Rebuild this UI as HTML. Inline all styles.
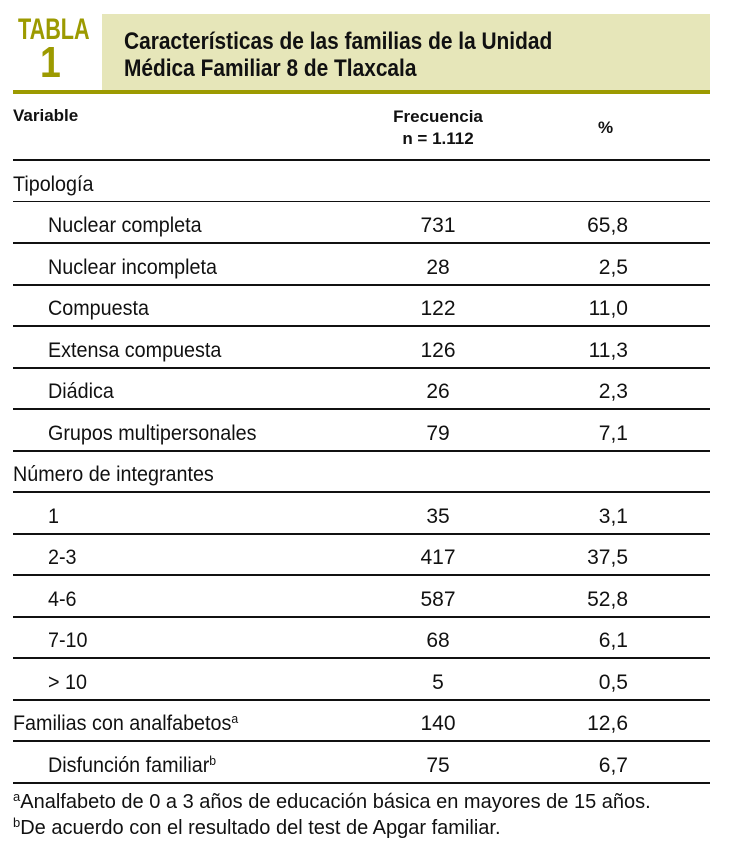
<!DOCTYPE html>
<html><head><meta charset="utf-8"><style>
body{margin:0;width:732px;height:845px;background:#fff;position:relative;overflow:hidden;font-family:"Liberation Sans Narrow","Liberation Sans",sans-serif;color:#111}
.a{position:absolute;white-space:nowrap}
.box{position:absolute;left:102px;top:14px;width:608px;height:77px;background:#e6e6b9}
.ol{position:absolute;left:13px;top:90px;width:697px;height:4px;background:#9c9a00}
.ln{position:absolute;left:13px;width:697px;height:2px;background:#111}
.t{font-size:21px;line-height:24px}
.sx{transform:scaleX(0.94);transform-origin:left}
.f{width:80px;text-align:center;left:398px}
.p{width:60px;text-align:right;left:568px}
sup{font-size:13px;vertical-align:7px;line-height:0}
</style></head><body>
<div class="box"></div><div class="ol"></div>
<div class="a" style="left:18px;top:13px;font-size:30px;font-weight:bold;color:#9c9a00;transform:scaleX(0.72);transform-origin:left">TABLA</div>
<div class="a" style="left:40px;top:38px;font-size:44px;font-weight:bold;color:#9c9a00;transform:scaleX(0.85);transform-origin:left">1</div>
<div class="a" style="left:124px;top:28px;font-size:24px;font-weight:bold;line-height:27px;transform:scaleX(0.87);transform-origin:left">Características de las familias de la Unidad<br>Médica Familiar 8 de Tlaxcala</div>
<div class="a" style="left:13px;top:106px;font-size:17px;font-weight:bold">Variable</div>
<div class="a" style="left:378px;top:106px;width:120px;text-align:center;font-size:17px;font-weight:bold;line-height:22px">Frecuencia<br>n = 1.112</div>
<div class="a" style="left:598px;top:118px;font-size:17px;font-weight:bold">%</div>
<div class="ln" style="top:159px"></div>
<div id="rows"></div>
<script>
var r=[["Tipología",0,"",""],["Nuclear completa",1,"731","65,8"],["Nuclear incompleta",1,"28","2,5"],["Compuesta",1,"122","11,0"],["Extensa compuesta",1,"126","11,3"],["Diádica",1,"26","2,3"],["Grupos multipersonales",1,"79","7,1"],["Número de integrantes",0,"",""],["1",1,"35","3,1"],["2-3",1,"417","37,5"],["4-6",1,"587","52,8"],["7-10",1,"68","6,1"],["> 10",1,"5","0,5"],["Familias con analfabetos<sup>a</sup>",0,"140","12,6"],["Disfunción familiar<sup>b</sup>",1,"75","6,7"]];
var h="";r.forEach(function(x,i){var top=160+i*41.5;var c=top+20.75-8;
h+='<div class="a t sx" style="left:'+(x[1]?48:13)+'px;top:'+c+'px">'+x[0]+'</div>';
h+='<div class="a t f" style="top:'+c+'px">'+x[2]+'</div><div class="a t p" style="top:'+c+'px">'+x[3]+'</div>';
h+='<div class="ln" style="top:'+(top+41.5-1)+'px;height:'+(i==0?1.5:2)+'px"></div>';});
document.getElementById("rows").innerHTML=h;
</script>
<div class="a" style="left:13px;top:789px;font-size:20px;line-height:26px"><sup>a</sup>Analfabeto de 0 a 3 años de educación básica en mayores de 15 años.<br><sup>b</sup>De acuerdo con el resultado del test de Apgar familiar.</div>
</body></html>
